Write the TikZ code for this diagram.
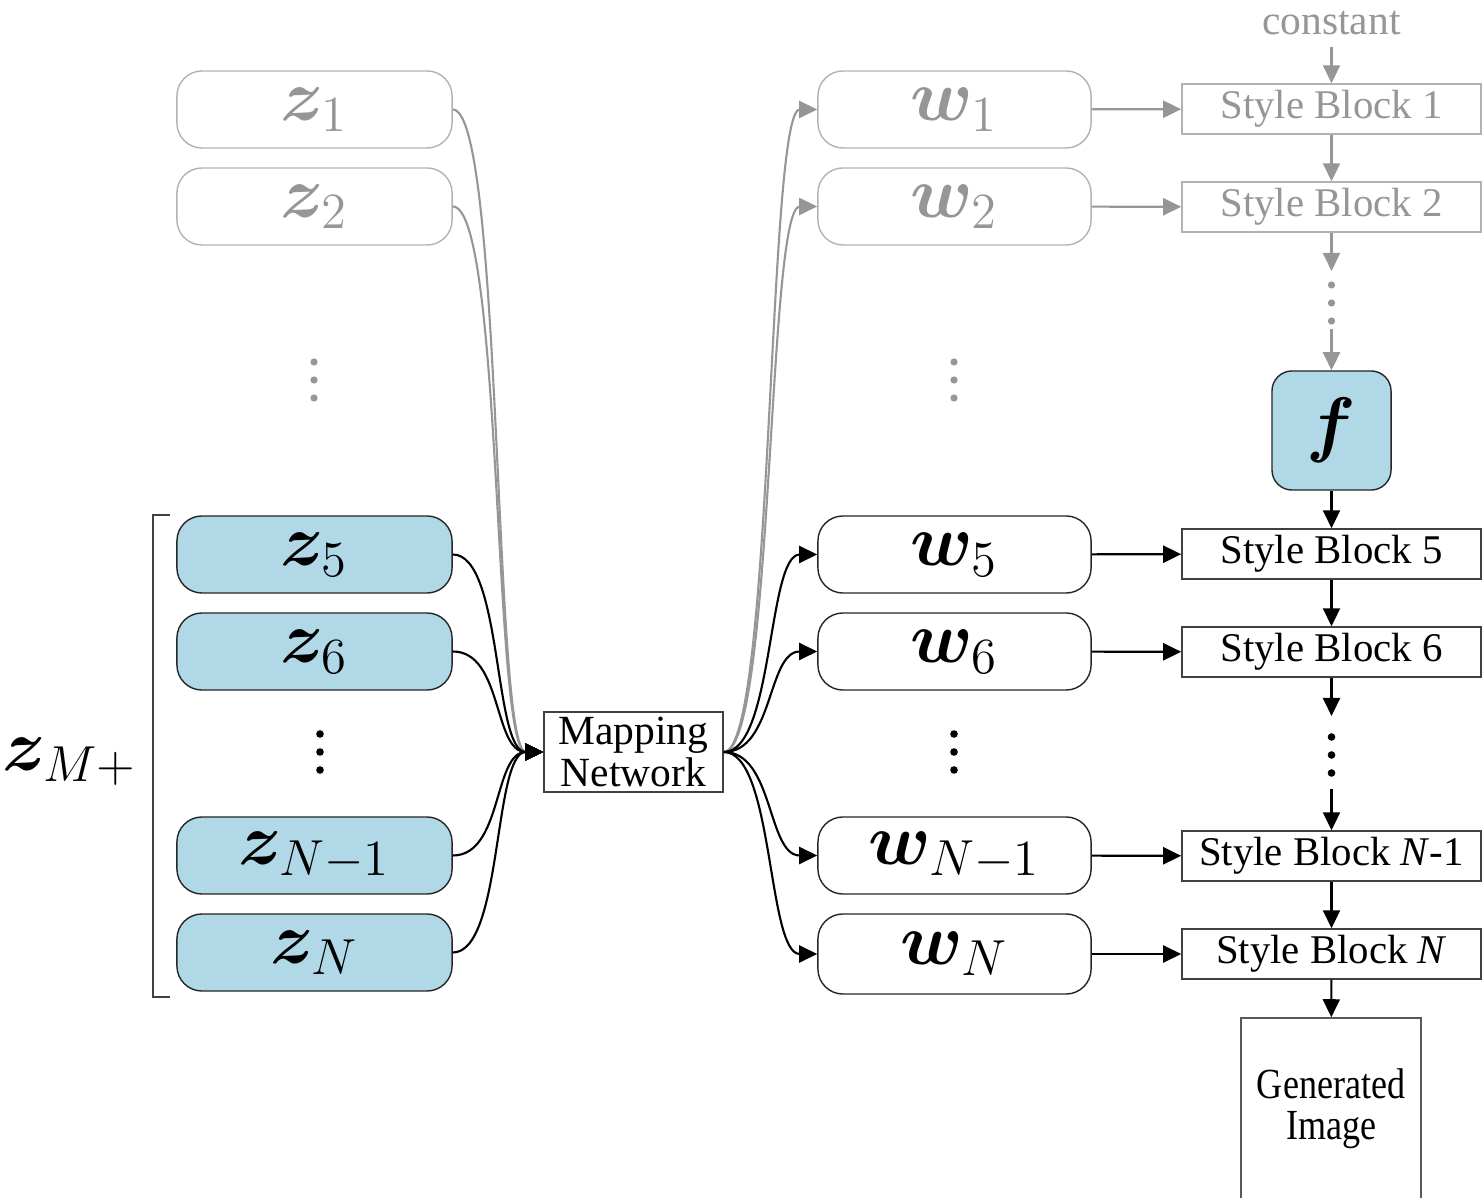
\documentclass[tikz,border=0pt]{standalone}
\usepackage{amsmath,amssymb,bm}
\usepackage[no-math]{fontspec}
\setmainfont{Liberation Serif}
\newfontfamily\narrowserif[FakeStretch=0.84]{Liberation Serif}
\usetikzlibrary{arrows.meta}
\definecolor{boxblue}{RGB}{176,216,230}
\definecolor{fadetext}{RGB}{150,150,150}
\definecolor{fadeline}{RGB}{178,178,178}

\begin{document}
\begin{tikzpicture}[x=0.01cm,y=-0.01cm,
  vecbox/.style={draw=black!85,rounded corners=0.25cm,minimum width=2.75cm,minimum height=0.77cm,inner sep=0pt,font=\fontsize{21.5}{26}\selectfont},
  faded/.style={draw=fadeline,text=fadetext},
  blockbox/.style={draw=black!75,minimum width=2.99cm,minimum height=0.50cm,inner sep=0pt,font=\fontsize{11.6}{12}\selectfont},
  link/.style={line width=0.6pt,-{Triangle[length=0.18cm,width=0.17cm]}},
  fadelink/.style={link,draw=fadetext},
  curvy/.style={out=0,in=180,distance=0.5cm}]
\useasboundingbox (0,0) rectangle (1482,1198);

% latent codes
\node[vecbox,faded] (z1) at (314.5,109.5) {$\boldsymbol{z}_1$};
\node[vecbox,faded] (z2) at (314.5,206.5) {$\boldsymbol{z}_2$};
\node[vecbox,fill=boxblue] (z5) at (314.5,554.5) {$\boldsymbol{z}_5$};
\node[vecbox,fill=boxblue] (z6) at (314.5,651.5) {$\boldsymbol{z}_6$};
\node[vecbox,fill=boxblue] (zN1) at (314.5,855.5) {$\boldsymbol{z}_{N-1}$};
\node[vecbox,fill=boxblue] (zN) at (314.5,952.5) {$\boldsymbol{z}_N$};
\node[font=\fontsize{22}{26}\selectfont] (zM) at (70,762) {$\boldsymbol{z}_{M+}$};
\draw[black!75,line width=0.4pt] (170,515)--(153,515)--(153,997)--(170,997);

% mapping network
\node[draw=black!75,inner sep=0pt,minimum width=1.79cm,minimum height=0.80cm,align=center,
  font=\fontsize{11.8}{12}\selectfont] (map) at (633.5,752) {Mapping\\Network};

% style codes
\node[vecbox,faded,minimum width=2.73cm] (w1) at (954.5,109.5) {$\boldsymbol{w}_1$};
\node[vecbox,faded,minimum width=2.73cm] (w2) at (954.5,206.5) {$\boldsymbol{w}_2$};
\node[vecbox,minimum width=2.73cm] (w5) at (954.5,554.5) {$\boldsymbol{w}_5$};
\node[vecbox,minimum width=2.73cm] (w6) at (954.5,651.5) {$\boldsymbol{w}_6$};
\node[vecbox,minimum width=2.73cm] (wN1) at (954.5,855.5) {$\boldsymbol{w}_{N-1}$};
\node[vecbox,minimum width=2.73cm,minimum height=0.80cm] (wN) at (954.5,954) {$\boldsymbol{w}_N$};

% synthesis side
\node[text=fadetext,font=\fontsize{11.8}{12}\selectfont] (const) at (1331.5,23) {constant};
\node[blockbox,faded] (sb1) at (1331.5,109) {Style Block 1};
\node[blockbox,faded] (sb2) at (1331.5,207) {Style Block 2};
\node[draw=black!85,fill=boxblue,rounded corners=0.2cm,minimum size=1.19cm,inner sep=0pt,font=\fontsize{21.5}{26}\selectfont] (f) at (1331.5,430.5) {$\boldsymbol{f}$};
\node[blockbox] (sb5) at (1331.5,554) {Style Block 5};
\node[blockbox] (sb6) at (1331.5,652) {Style Block 6};
\node[blockbox] (sbN1) at (1331.5,856) {Style Block \textit{N}-1};
\node[blockbox] (sbN) at (1331.5,954) {Style Block \textit{N}};
\node[draw=black!65,minimum width=1.80cm,minimum height=1.82cm,inner sep=0pt,align=center,
  font=\narrowserif\fontsize{12.2}{11.6}\selectfont] (gen) at (1331,1109) {Generated\\Image};
\coordinate (g1) at (1331.5,271);
\coordinate (g2) at (1331.5,329);
\coordinate (b1) at (1331.5,716);
\coordinate (b2) at (1331.5,789);

% dots
\foreach \y in {362,380,398} {
  \fill[fadetext] (314,\y) circle (3.6);
  \fill[fadetext] (954,\y) circle (3.6);
}
\foreach \y in {285,303,321} \fill[fadetext] (1331.5,\y) circle (3.6);
\foreach \y in {734,752,770} {
  \fill (320,\y) circle (3.8);
  \fill (954,\y) circle (3.8);
}
\foreach \y in {737,755,773} \fill (1331.5,\y) circle (3.8);

% faded connectors
\draw[fadelink] (z1.east) to[curvy] (map.west);
\draw[fadelink] (z2.east) to[curvy] (map.west);
\draw[fadelink] (map.east) to[curvy] (w1.west);
\draw[fadelink] (map.east) to[curvy] (w2.west);
\draw[fadelink] (w1) -- (sb1);
\draw[fadelink] (w2) -- (sb2);
\draw[fadelink] (const) -- (sb1);
\draw[fadelink] (sb1) -- (sb2);
\draw[fadelink] (sb2) -- (g1);
\draw[fadelink] (g2) -- (f);

% active connectors
\foreach \z in {z5,z6,zN1,zN} \draw[link] (\z.east) to[curvy] (map.west);
\foreach \w/\s in {w5/sb5,w6/sb6,wN1/sbN1,wN/sbN} {
  \draw[link] (map.east) to[curvy] (\w.west);
  \draw[link] (\w) -- (\s);
}
\draw[link] (f) -- (sb5);
\draw[link] (sb5) -- (sb6);
\draw[link] (sb6) -- (b1);
\draw[link] (b2) -- (sbN1);
\draw[link] (sbN1) -- (sbN);
\draw[link] (sbN) -- (gen);
\end{tikzpicture}
\end{document}
